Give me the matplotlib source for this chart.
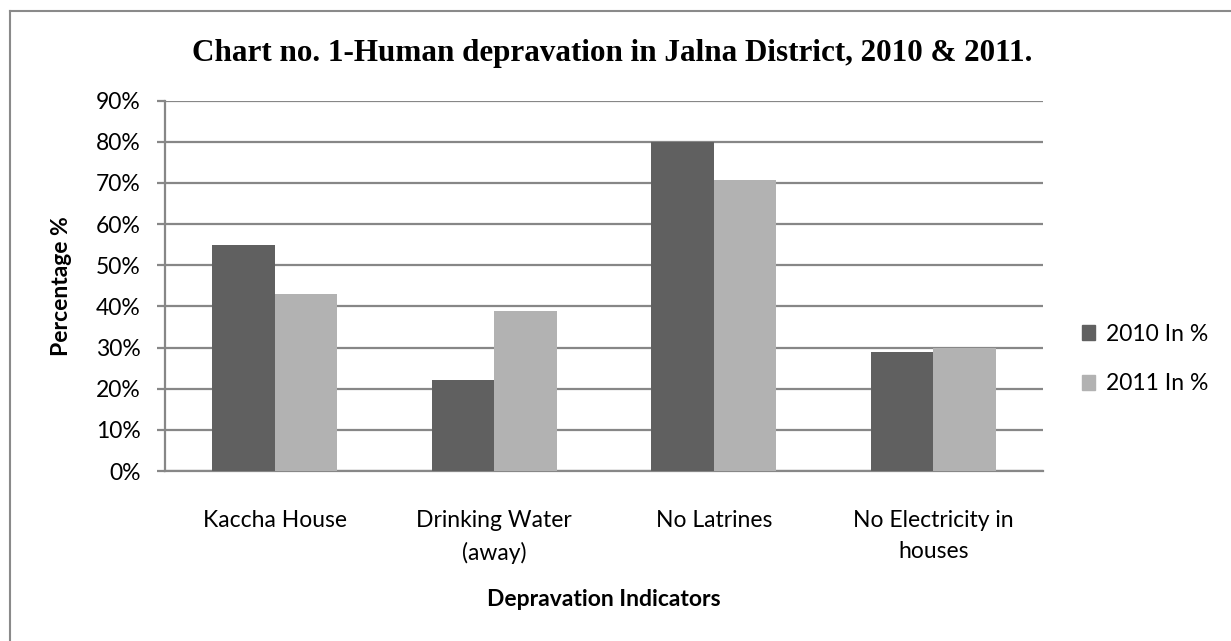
import matplotlib
matplotlib.use("Agg")
from matplotlib import pyplot as plt
from matplotlib.lines import Line2D
from matplotlib.patches import Patch
import numpy as np

# data
categories = ["Kaccha House", "Drinking Water\n(away)", "No Latrines", "No Electricity in\nhouses"]
values_2010 = [55, 22, 80, 29]
values_2011 = [43, 38.8, 70.7, 30]
series_names = ["2010 In %", "2011 In %"]
series_colors = ["#606060", "#b2b2b2"]
yticks = [0, 10, 20, 30, 40, 50, 60, 70, 80, 90]

W, H = 1231, 641
fig = plt.figure(figsize=(W / 100, H / 100), dpi=100)
fig.patch.set_facecolor("white")

sans = ["Lato", "DejaVu Sans"]
serif = ["Liberation Serif", "DejaVu Serif"]
fs = 16.5

# plot area in pixel coords
left, right, top, bottom = 165, 1043, 100.7, 471
ax = fig.add_axes([left / W, 1 - bottom / H, (right - left) / W, (bottom - top) / H])

x = np.arange(len(categories))
bw = 0.285
ax.bar(x - bw / 2, values_2010, bw, color=series_colors[0], zorder=3)
ax.bar(x + bw / 2, values_2011, bw, color=series_colors[1], zorder=3)

ax.set_xlim(-0.5, len(categories) - 0.5)
ax.set_ylim(0, 90)
ax.set_yticks(yticks)
ax.set_yticklabels([f"{v}%" for v in yticks], fontfamily=sans, fontsize=fs)
ax.set_xticks(x)
ax.set_xticklabels(categories, fontfamily=sans, fontsize=fs, linespacing=1.6, va="top")

grid_c = "#878787"
ax.yaxis.grid(True, color=grid_c, linewidth=1.6, zorder=0)
for s in ["top", "right"]:
    ax.spines[s].set_visible(False)
ax.spines["left"].set_color(grid_c)
ax.spines["left"].set_linewidth(1.6)
ax.spines["bottom"].set_color(grid_c)
ax.spines["bottom"].set_linewidth(1.6)
ax.tick_params(axis="y", length=5.5, width=1.6, color=grid_c, pad=12)
ax.tick_params(axis="x", length=0, pad=28)

ax.set_ylabel("Percentage %", fontfamily=sans, fontsize=fs, fontweight="bold")
ax.yaxis.set_label_coords((61 - left) / (right - left), 0.5)
ax.yaxis.label.set_va("center")
ax.set_xlabel("Depravation Indicators", fontfamily=sans, fontsize=fs, fontweight="bold")
ax.xaxis.set_label_coords(0.5, -(600 - bottom) / (bottom - top))
ax.xaxis.label.set_va("center")

fig.text(612 / W, 1 - 53 / H, "Chart no. 1-Human depravation in Jalna District, 2010 & 2011.",
         fontfamily=serif, fontsize=22.4, fontweight="bold", ha="center", va="center")

handles = [Patch(color=c) for c in series_colors]
ax.legend(handles, series_names, loc="center left",
          bbox_to_anchor=((1061 - left) / (right - left), (bottom - 359) / (bottom - top)),
          frameon=False, prop={"family": sans, "size": fs},
          handlelength=0.6, handleheight=0.6, handletextpad=0.45, labelspacing=1.25)

# outer chart frame (left and top edges visible)
fig.add_artist(Line2D([10 / W, 10 / W], [0, 1 - 11 / H], color="#8a8a8a", linewidth=1.5))
fig.add_artist(Line2D([10 / W, 1], [1 - 11 / H, 1 - 11 / H], color="#8a8a8a", linewidth=1.5))

fig.savefig("out.png", dpi=100)
